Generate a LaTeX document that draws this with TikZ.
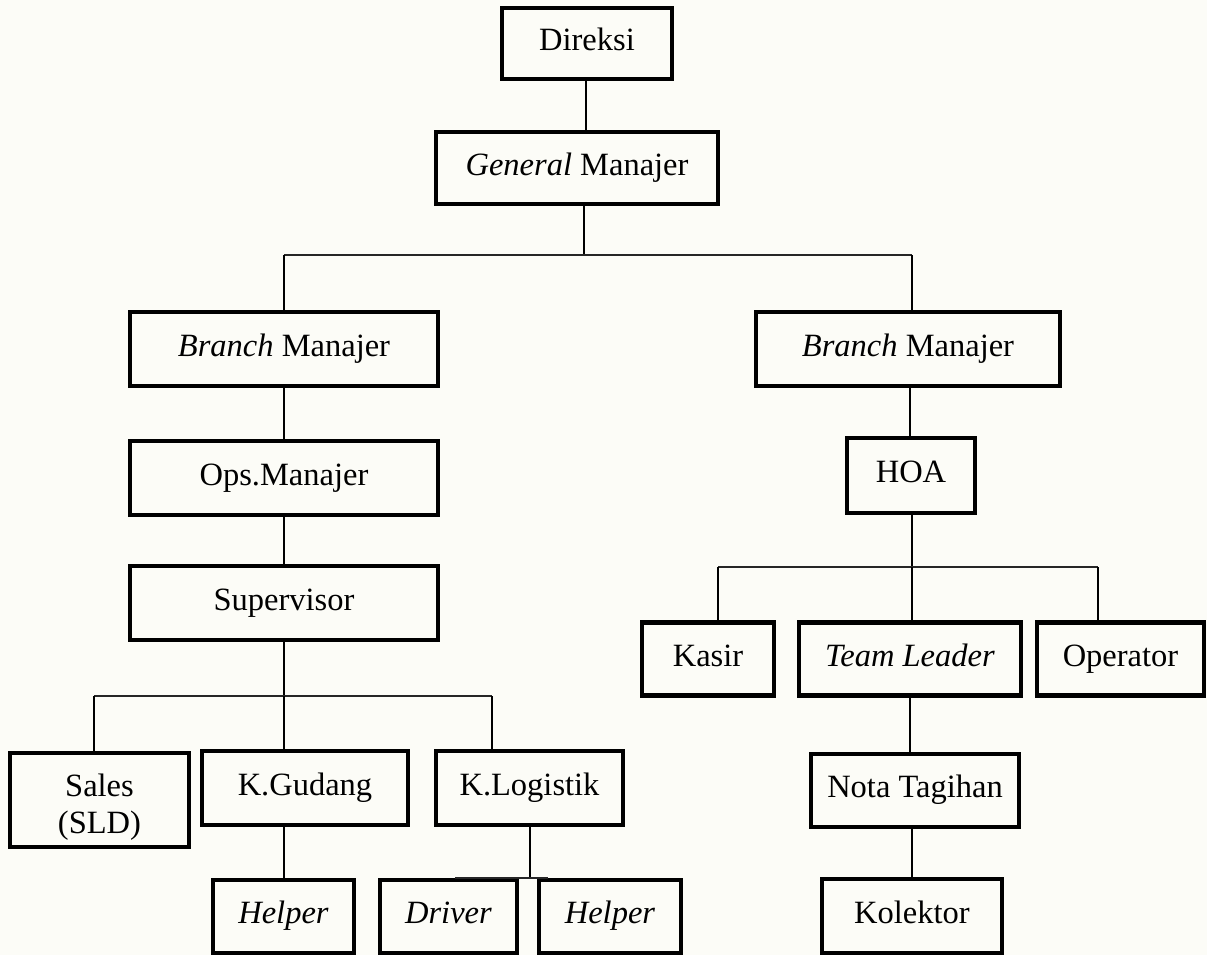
\documentclass[tikz,border=0pt]{standalone}
\usepackage{fontspec}
\setmainfont{Liberation Serif}
\definecolor{bgcream}{RGB}{252,252,247}
\begin{document}
\begin{tikzpicture}[x=1pt,y=-1pt,
  box/.style={draw=black, line width=4.8pt, fill=bgcream, inner sep=0pt, align=center,
    font=\fontsize{32.5}{37}\selectfont, execute at begin node=\strut},
  conn/.style={line width=2pt, draw=black},
  bar/.style={line width=1.4pt, draw=black!85}]
\fill[bgcream] (0,0) rectangle (1207,955);
\useasboundingbox (0,0) rectangle (1207,955);
\coordinate (hA) at (284,255);
\coordinate (hB) at (912,255);
\coordinate (sA) at (94,696);
\coordinate (sB) at (492,696);
\coordinate (rA) at (718,567);
\coordinate (rB) at (1098,567);
\coordinate (bA) at (455,878);
\coordinate (bB) at (548,878);
% nodes
\node[box, minimum width=170pt, minimum height=71pt] (dir) at (587,43.5) {Direksi};
\node[box, minimum width=282pt, minimum height=72pt] (gm) at (577,168) {\textit{General} Manajer};
\node[box, minimum width=308pt, minimum height=74pt] (bmL) at (284,349) {\textit{Branch} Manajer};
\node[box, minimum width=304pt, minimum height=74pt] (bmR) at (908,349) {\textit{Branch} Manajer};
\node[box, minimum width=308pt, minimum height=74pt] (ops) at (284,478) {Ops.Manajer};
\node[box, minimum width=308pt, minimum height=74pt] (sup) at (284,603) {Supervisor};
\node[box, minimum width=128pt, minimum height=75pt] (hoa) at (911,475.5) {HOA};
\node[box, minimum width=132pt, minimum height=73pt] (kasir) at (708,659) {Kasir};
\node[box, minimum width=222pt, minimum height=73pt] (tl) at (910,659) {\textit{Team Leader}};
\node[box, minimum width=167pt, minimum height=73pt] (op) at (1120.5,659) {Operator};
\node[box, minimum width=208pt, minimum height=73pt] (nota) at (915,790.5) {Nota Tagihan};
\node[box, minimum width=180pt, minimum height=74pt] (kol) at (912,916) {Kolektor};
\node[box, minimum width=179pt, minimum height=94pt] (sales) at (99.5,800) {\rule{0pt}{42pt}Sales\\\strut(SLD)};
\node[box, minimum width=206pt, minimum height=74pt] (kg) at (305,788) {K.Gudang};
\node[box, minimum width=187pt, minimum height=74pt] (kl) at (529.5,788) {K.Logistik};
\node[box, minimum width=141pt, minimum height=73pt] (hl1) at (283.5,916.5) {\textit{Helper}};
\node[box, minimum width=137pt, minimum height=73pt] (drv) at (448.5,916.5) {\textit{Driver}};
\node[box, minimum width=142pt, minimum height=73pt] (hl2) at (610,916.5) {\textit{Helper}};
% connectors
\draw[conn] (dir.south -| 586,0) -- (gm.north -| 586,0);
\draw[conn] (gm.south -| 584,0) -- (584,255);
\draw[bar] (hA) -- (hB);
\draw[conn] (hA) -- (bmL.north -| hA);
\draw[conn] (hB) -- (bmR.north -| hB);
\draw[conn] (bmL.south -| hA) -- (ops.north -| hA);
\draw[conn] (ops.south -| hA) -- (sup.north -| hA);
\draw[conn] (sup.south -| hA) -- (hA |- sA);
\draw[bar] (sA) -- (sB);
\draw[conn] (sA) -- (sales.north -| sA);
\draw[conn] (hA |- sA) -- (kg.north -| hA);
\draw[conn] (sB) -- (kl.north -| sB);
\draw[conn] (kg.south -| hA) -- (hl1.north -| hA);
\draw[conn] (kl.south -| 530,0) -- (530,878);
\draw[bar] (bA) -- (bB);
\draw[conn] (bmR.south -| 910,0) -- (hoa.north -| 910,0);
\draw[conn] (hoa.south -| 912,0) -- (912,567);
\draw[bar] (rA) -- (rB);
\draw[conn] (rA) -- (kasir.north -| rA);
\draw[conn] (912,567) -- (tl.north -| 912,0);
\draw[conn] (rB) -- (op.north -| rB);
\draw[conn] (tl.south -| 910,0) -- (nota.north -| 910,0);
\draw[conn] (nota.south -| 912,0) -- (kol.north -| 912,0);
\end{tikzpicture}
\end{document}
